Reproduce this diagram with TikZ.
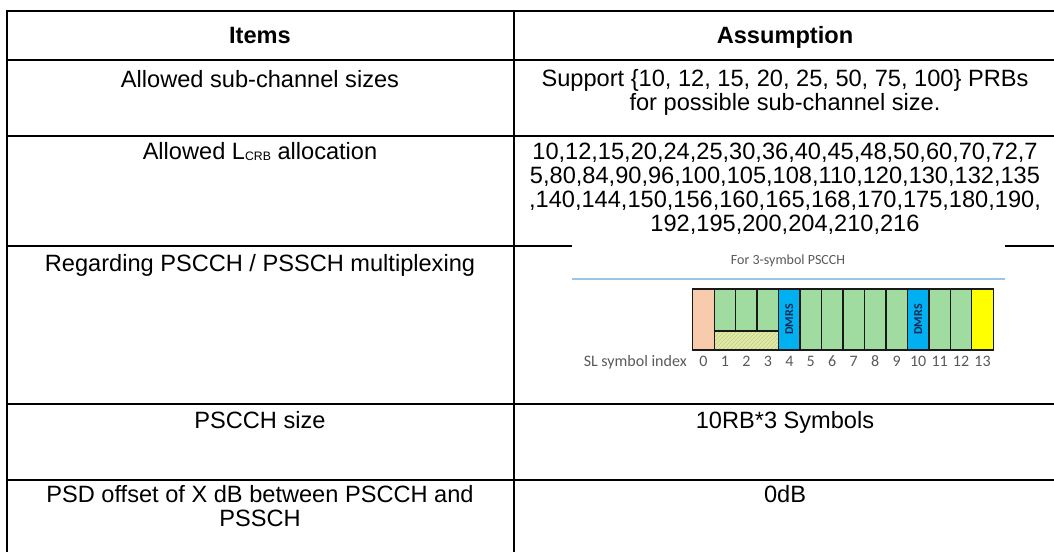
\documentclass[tikz,border=0pt]{standalone}
\usepackage{fontspec}
\setmainfont{Liberation Sans}
\newfontfamily\calfont{Carlito}
\usetikzlibrary{patterns}
\definecolor{peach}{RGB}{248,203,173}
\definecolor{symgreen}{RGB}{160,220,160}
\definecolor{dmrsblue}{RGB}{0,176,240}
\definecolor{symyellow}{RGB}{255,255,0}
\definecolor{hatchfill}{RGB}{224,232,172}
\definecolor{hatchline}{RGB}{196,208,120}
\definecolor{rulecol}{RGB}{157,195,230}
\definecolor{labgray}{RGB}{89,89,89}
\definecolor{dmrstext}{RGB}{20,40,80}
\begin{document}
\begin{tikzpicture}[x=0.75pt,y=-0.75pt,
  tbl/.style={line width=1.5pt},
  cell/.style={anchor=base,inner sep=0pt,font=\fontsize{17.7}{21}\selectfont},
  hdr/.style={anchor=base,inner sep=0pt,font=\fontsize{17.7}{21}\selectfont\bfseries},
  sym/.style={draw=black!90,line width=1pt},
  lab/.style={inner sep=0pt,anchor=base,text=labgray,font=\calfont\fontsize{12}{14}\selectfont},
  ttl/.style={inner sep=0pt,anchor=base,text=labgray,font=\calfont\fontsize{10.5}{12}\selectfont},
  dmrs/.style={inner sep=0pt,rotate=90,font=\calfont\bfseries\fontsize{9}{10}\selectfont,text=dmrstext}]
\useasboundingbox (0,0) rectangle (1054,552);
% table rules
\draw[tbl] (7,11) -- (1054,11);
\draw[tbl] (7,60) -- (1054,60);
\draw[tbl] (7,136) -- (1054,136);
\draw[tbl] (7,246) -- (572,246);
\draw[tbl] (1005,246) -- (1054,246);
\draw[tbl] (7,404.5) -- (1054,404.5);
\draw[tbl] (7,479.5) -- (1054,479.5);
\draw[tbl] (7,10) -- (7,552);
\draw[tbl] (513.5,11) -- (513.5,552);
% header
\node[hdr] (h1) at (260,44) {Items};
\node[hdr] (h2) at (785,44) {Assumption};
% row 1
\node[cell] (r1l) at (260,88) {Allowed sub-channel sizes};
\node[cell] (r1a) at (785,87) {Support \{10, 12, 15, 20, 25, 50, 75, 100\} PRBs};
\node[cell] (r1b) at (785,110.8) {for possible sub-channel size.};
% row 2
\node[cell] (r2l) at (260,160) {Allowed L{\fontsize{9.2}{10}\selectfont\raisebox{-0.6pt}{CRB}} allocation};
\node[cell] (r2a) at (785,160) {10,12,15,20,24,25,30,36,40,45,48,50,60,70,72,7};
\node[cell] (r2b) at (785,183.8) {5,80,84,90,96,100,105,108,110,120,130,132,135};
\node[cell] (r2c) at (785,207.6) {,140,144,150,156,160,165,168,170,175,180,190,};
\node[cell] (r2d) at (785,231.4) {192,195,200,204,210,216};
% row 3
\node[cell] (r3l) at (260,272) {Regarding PSCCH / PSSCH multiplexing};
\node[ttl] (title) at (788,264.5) {For 3-symbol PSCCH};
\draw[rulecol,line width=1.2pt] (572,279) -- (1005,279);
% symbols
\def\xo{692.7}
\def\w{21.47}
\foreach \i/\c in {0/peach,4/dmrsblue,5/symgreen,6/symgreen,7/symgreen,8/symgreen,9/symgreen,10/dmrsblue,11/symgreen,12/symgreen,13/symyellow}{
  \draw[sym,fill=\c] ({\xo+\i*\w},289) rectangle ({\xo+(\i+1)*\w},350);
}
\foreach \i in {1,2,3}{
  \draw[sym,fill=symgreen] ({\xo+\i*\w},289) rectangle ({\xo+(\i+1)*\w},331);
}
\fill[hatchfill] ({\xo+\w},331) rectangle ({\xo+4*\w},350);
\fill[pattern=north east lines,pattern color=hatchline] ({\xo+\w},331) rectangle ({\xo+4*\w},350);
\draw[sym] ({\xo+\w},331) rectangle ({\xo+4*\w},350);
\node[dmrs] (d1) at ({\xo+4.5*\w},319.5) {DMRS};
\node[dmrs] (d2) at ({\xo+10.5*\w},319.5) {DMRS};
\node[lab,anchor=base east] (slidx) at (687,367) {SL symbol index};
\foreach \i in {0,...,13}{
  \node[lab] (idx\i) at ({\xo+(\i+0.5)*\w},367) {\i};
}
% row 4
\node[cell] (r4l) at (260,429) {PSCCH size};
\node[cell] (r4r) at (785,429) {10RB*3 Symbols};
% row 5
\node[cell] (r5l) at (260,503) {PSD offset of X dB between PSCCH and};
\node[cell] (r5m) at (260,526.8) {PSSCH};
\node[cell] (r5r) at (785,503) {0dB};
\end{tikzpicture}
\end{document}
